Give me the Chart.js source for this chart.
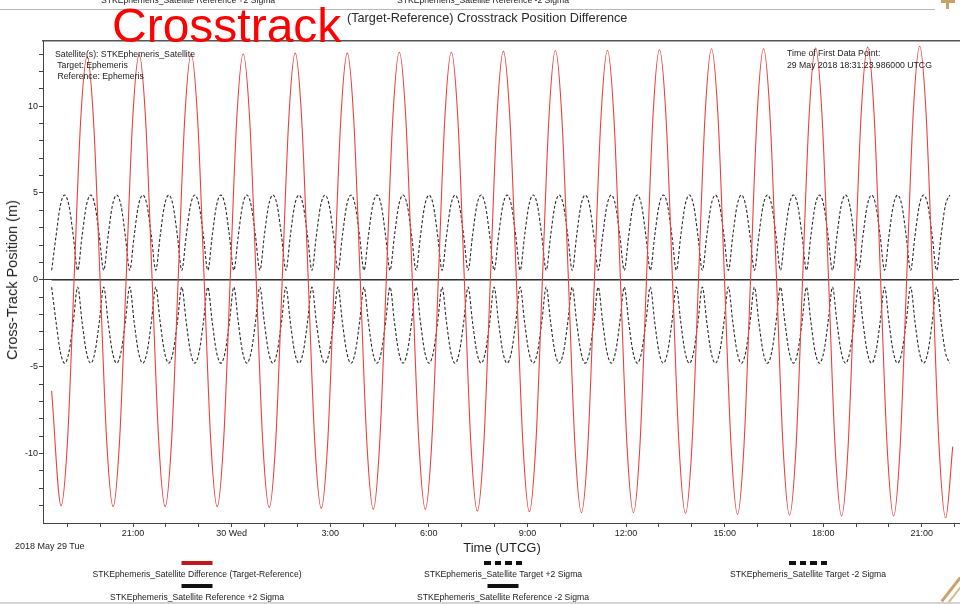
<!DOCTYPE html>
<html>
<head>
<meta charset="utf-8">
<title>Crosstrack Position Difference</title>
<script src="https://cdn.jsdelivr.net/npm/chart.js@4.4.1/dist/chart.umd.min.js"></script>
<style>
  html, body { margin: 0; padding: 0; background: #fff; }
  #page {
    position: relative; width: 960px; height: 604px; overflow: hidden;
    font-family: "Liberation Sans", Arial, sans-serif; color: #1e1e1e;
  }
  #plot { position: absolute; left: 0; top: 0; }
  .t { position: absolute; white-space: pre; }
  .note { font-size: 8.7px; line-height: 11px; color: #1a1a1a; }
  .leg { position: absolute; transform: translateX(-50%); }
  .legText { font-size: 8.6px; line-height: 11px; white-space: pre; color: #1a1a1a; }
</style>
</head>
<body>
<div id="page">
  <canvas id="plot" width="960" height="604"></canvas>

  <!-- strip of the legend belonging to the panel above -->
  <div class="t legText" style="left:101px; top:-5px;">STKEphemeris_Satellite Reference +2 Sigma</div>
  <div class="t legText" style="left:397px; top:-5px;">STKEphemeris_Satellite Reference -2 Sigma</div>
  <div style="position:absolute; left:0; top:9px; width:935px; height:1px; background:#b8b8b8;"></div>
  <div style="position:absolute; left:941px; top:0; width:14px; height:3px; background:#c9a26a;"></div>
  <div style="position:absolute; left:946px; top:0; width:3px; height:9px; background:#c9a26a;"></div>

  <div class="t" style="left:112px; top:2px; font-size:48px; line-height:48px; color:#ff0000;">Crosstrack</div>
  <div class="t" style="left:347px; top:10px; font-size:12.7px; line-height:16px; color:#2a2a2a;">(Target-Reference) Crosstrack Position Difference</div>

  <div class="t note" style="left:55px; top:49px;">Satellite(s): STKEphemeris_Satellite</div>
  <div class="t note" style="left:55px; top:60px;"> Target: Ephemeris</div>
  <div class="t note" style="left:55px; top:71px;"> Reference: Ephemeris</div>
  <div class="t note" style="left:787px; top:48px;">Time of First Data Point:</div>
  <div class="t note" style="left:787px; top:60px;">29 May 2018 18:31:23.986000 UTCG</div>

  <div class="t" style="left:12px; top:280px; font-size:14.5px; line-height:16px; transform:translate(-50%,-50%) rotate(-90deg);">Cross-Track Position (m)</div>
  <div class="t" style="left:502px; top:548px; font-size:13px; line-height:16px; transform:translate(-50%,-50%);">Time (UTCG)</div>
  <div class="t" style="left:15px; top:541px; font-size:9px; line-height:11px;">2018 May 29 Tue</div>

  <div id="legend"></div>

  <div style="position:absolute; left:0; top:602px; width:960px; height:2px; background:#d4d4d4;"></div>
  <div style="position:absolute; left:936px; top:588px; width:30px; height:3px; background:#c9a26a; transform:rotate(-52deg);"></div>
  <div style="position:absolute; left:944px; top:592px; width:24px; height:2px; background:#d8bb8a; transform:rotate(-52deg);"></div>
</div>

<script>
// ---- time axis (hours counted from 2018-05-29 00:00 UTCG) ----
const xTickHours = [19, 20, 21, 22, 23, 24, 25, 26, 27, 28, 29, 30, 31, 32, 33, 34,
                    35, 36, 37, 38, 39, 40, 41, 42, 43, 44, 45, 46];
const xLabelHours = [21, 24, 27, 30, 33, 36, 39, 42, 45];
const xLabelTexts = ['21:00', '30 Wed', '3:00', '6:00', '9:00', '12:00', '15:00', '18:00', '21:00'];

// ---- position axis (m) ----
const yTickValues = [-13, -12, -11, -10, -9, -8, -7, -6, -5, -4, -3, -2, -1, 0,
                     1, 2, 3, 4, 5, 6, 7, 8, 9, 10, 11, 12, 13];
const yLabelValues = [-10, -5, 0, 5, 10];

// ---- Difference (Target-Reference) ----
const diffFirstHour = 18.523, diffFirstValue = -6.4;   // first data point
const diffGridStart = 18.81, diffGridStep = 0.1979;    // samples from the first trough on
const diffLastHour = 45.94, diffLastValue = -9.6;      // last data point
const diffValues = [
  -13.0,  -9.2, 0, 9.1, 12.85, 9.1, 0, -9.2,
  -13.05, -9.2, 0, 9.2, 12.95, 9.2, 0, -9.2,
  -13.05, -9.2, 0, 9.2, 13.0,  9.2, 0, -9.2,
  -13.05, -9.2, 0, 9.2, 13.0,  9.2, 0, -9.3,
  -13.1,  -9.3, 0, 9.2, 13.05, 9.2, 0, -9.3,
  -13.15, -9.3, 0, 9.2, 13.05, 9.2, 0, -9.3,
  -13.2,  -9.3, 0, 9.3, 13.1,  9.3, 0, -9.3,
  -13.2,  -9.3, 0, 9.3, 13.1,  9.3, 0, -9.4,
  -13.3,  -9.4, 0, 9.3, 13.15, 9.3, 0, -9.4,
  -13.35, -9.4, 0, 9.3, 13.2,  9.3, 0, -9.5,
  -13.4,  -9.5, 0, 9.3, 13.2,  9.3, 0, -9.5,
  -13.4,  -9.5, 0, 9.4, 13.25, 9.4, 0, -9.5,
  -13.45, -9.5, 0, 9.4, 13.3,  9.4, 0, -9.5,
  -13.5,  -9.5, 0, 9.4, 13.3,  9.4, 0, -9.6,
  -13.55, -9.6, 0, 9.4, 13.35, 9.4, 0, -9.6,
  -13.6,  -9.6, 0, 9.5, 13.4,  9.5, 0, -9.6,
  -13.6,  -9.6, 0, 9.5, 13.45, 9.5, 0, -9.7,
  -13.7
];

// ---- Target +/-2 sigma (one arch per row) ----
const sigmaStart = 18.523, sigmaStep = 0.13199;
const targetPlus2Sigma = [
  0.55, 2.5, 4.27, 4.88, 4.27, 2.5,
  0.55, 2.5, 4.27, 4.88, 4.27, 2.5,
  0.55, 2.5, 4.27, 4.88, 4.27, 2.5,
  0.55, 2.5, 4.27, 4.88, 4.27, 2.5,
  0.55, 2.5, 4.27, 4.88, 4.27, 2.5,
  0.55, 2.5, 4.27, 4.88, 4.27, 2.5,
  0.55, 2.5, 4.27, 4.88, 4.27, 2.5,
  0.55, 2.5, 4.27, 4.88, 4.27, 2.5,
  0.55, 2.5, 4.27, 4.88, 4.27, 2.5,
  0.55, 2.5, 4.27, 4.88, 4.27, 2.5,
  0.55, 2.5, 4.27, 4.88, 4.27, 2.5,
  0.55, 2.5, 4.27, 4.88, 4.27, 2.5,
  0.55, 2.5, 4.27, 4.88, 4.27, 2.5,
  0.55, 2.5, 4.27, 4.88, 4.27, 2.5,
  0.55, 2.5, 4.27, 4.88, 4.27, 2.5,
  0.55, 2.5, 4.27, 4.88, 4.27, 2.5,
  0.55, 2.5, 4.27, 4.88, 4.27, 2.5,
  0.55, 2.5, 4.27, 4.88, 4.27, 2.5,
  0.55, 2.5, 4.27, 4.88, 4.27, 2.5,
  0.55, 2.5, 4.27, 4.88, 4.27, 2.5,
  0.55, 2.5, 4.27, 4.88, 4.27, 2.5,
  0.55, 2.5, 4.27, 4.88, 4.27, 2.5,
  0.55, 2.5, 4.27, 4.88, 4.27, 2.5,
  0.55, 2.5, 4.27, 4.88, 4.27, 2.5,
  0.55, 2.5, 4.27, 4.88, 4.27, 2.5,
  0.55, 2.5, 4.27, 4.88, 4.27, 2.5,
  0.55, 2.5, 4.27, 4.88, 4.27, 2.5,
  0.55, 2.5, 4.27, 4.88, 4.27, 2.5,
  0.55, 2.5, 4.27, 4.88, 4.27, 2.5,
  0.55, 2.5, 4.27, 4.88, 4.27, 2.5,
  0.55, 2.5, 4.27, 4.88, 4.27, 2.5,
  0.55, 2.5, 4.27, 4.88, 4.27, 2.5,
  0.55, 2.5, 4.27, 4.88, 4.27, 2.5,
  0.55, 2.5, 4.27, 4.88, 4.27, 2.5,
  0.55, 2.5, 4.27, 4.88
];
const targetMinus2Sigma = [
  -0.42, -2.4, -4.15, -4.8, -4.15, -2.4,
  -0.42, -2.4, -4.15, -4.8, -4.15, -2.4,
  -0.42, -2.4, -4.15, -4.8, -4.15, -2.4,
  -0.42, -2.4, -4.15, -4.8, -4.15, -2.4,
  -0.42, -2.4, -4.15, -4.8, -4.15, -2.4,
  -0.42, -2.4, -4.15, -4.8, -4.15, -2.4,
  -0.42, -2.4, -4.15, -4.8, -4.15, -2.4,
  -0.42, -2.4, -4.15, -4.8, -4.15, -2.4,
  -0.42, -2.4, -4.15, -4.8, -4.15, -2.4,
  -0.42, -2.4, -4.15, -4.8, -4.15, -2.4,
  -0.42, -2.4, -4.15, -4.8, -4.15, -2.4,
  -0.42, -2.4, -4.15, -4.8, -4.15, -2.4,
  -0.42, -2.4, -4.15, -4.8, -4.15, -2.4,
  -0.42, -2.4, -4.15, -4.8, -4.15, -2.4,
  -0.42, -2.4, -4.15, -4.8, -4.15, -2.4,
  -0.42, -2.4, -4.15, -4.8, -4.15, -2.4,
  -0.42, -2.4, -4.15, -4.8, -4.15, -2.4,
  -0.42, -2.4, -4.15, -4.8, -4.15, -2.4,
  -0.42, -2.4, -4.15, -4.8, -4.15, -2.4,
  -0.42, -2.4, -4.15, -4.8, -4.15, -2.4,
  -0.42, -2.4, -4.15, -4.8, -4.15, -2.4,
  -0.42, -2.4, -4.15, -4.8, -4.15, -2.4,
  -0.42, -2.4, -4.15, -4.8, -4.15, -2.4,
  -0.42, -2.4, -4.15, -4.8, -4.15, -2.4,
  -0.42, -2.4, -4.15, -4.8, -4.15, -2.4,
  -0.42, -2.4, -4.15, -4.8, -4.15, -2.4,
  -0.42, -2.4, -4.15, -4.8, -4.15, -2.4,
  -0.42, -2.4, -4.15, -4.8, -4.15, -2.4,
  -0.42, -2.4, -4.15, -4.8, -4.15, -2.4,
  -0.42, -2.4, -4.15, -4.8, -4.15, -2.4,
  -0.42, -2.4, -4.15, -4.8, -4.15, -2.4,
  -0.42, -2.4, -4.15, -4.8, -4.15, -2.4,
  -0.42, -2.4, -4.15, -4.8, -4.15, -2.4,
  -0.42, -2.4, -4.15, -4.8, -4.15, -2.4,
  -0.42, -2.4, -4.15, -4.8
];

// ---- Reference +/-2 sigma (ephemeris reference carries no covariance) ----
const referenceHours = [18.523, 45.94];
const referencePlus2Sigma = [0, 0];
const referenceMinus2Sigma = [0, 0];

// ---------------------------------------------------------------
const FONT = '"Liberation Sans", Arial, sans-serif';

const diffPoints = [{ x: diffFirstHour, y: diffFirstValue }]
  .concat(diffValues.map((v, i) => ({ x: diffGridStart + i * diffGridStep, y: v })))
  .concat([{ x: diffLastHour, y: diffLastValue }]);
const sigmaPoints = arr => arr.map((v, i) => ({ x: sigmaStart + i * sigmaStep, y: v }));
const refPoints = arr => arr.map((v, i) => ({ x: referenceHours[i], y: v }));

const curve = { pointRadius: 0, pointHoverRadius: 0, fill: false, cubicInterpolationMode: 'monotone' };

const datasets = [
  Object.assign({ label: 'STKEphemeris_Satellite Difference (Target-Reference)', data: diffPoints,
    borderColor: 'rgb(236,64,64)', borderWidth: 1.1, legendColor: '#c0181c' }, curve),
  Object.assign({ label: 'STKEphemeris_Satellite Target +2 Sigma', data: sigmaPoints(targetPlus2Sigma),
    borderColor: '#2b2b2b', borderWidth: 1.1, borderDash: [3, 2], legendColor: '#111' }, curve),
  Object.assign({ label: 'STKEphemeris_Satellite Target -2 Sigma', data: sigmaPoints(targetMinus2Sigma),
    borderColor: '#2b2b2b', borderWidth: 1.1, borderDash: [3, 2], legendColor: '#111' }, curve),
  Object.assign({ label: 'STKEphemeris_Satellite Reference +2 Sigma', data: refPoints(referencePlus2Sigma),
    borderColor: '#333', borderWidth: 1, legendColor: '#111' }, curve),
  Object.assign({ label: 'STKEphemeris_Satellite Reference -2 Sigma', data: refPoints(referenceMinus2Sigma),
    borderColor: '#333', borderWidth: 1, legendColor: '#111' }, curve)
];

const X_MIN = 18.26, X_MAX = 46.13;

new Chart(document.getElementById('plot'), {
  type: 'line',
  data: { datasets },
  options: {
    responsive: false,
    animation: false,
    devicePixelRatio: 1,
    events: [],
    layout: { padding: { left: 0, top: 41, right: 1, bottom: 61 } },
    plugins: { legend: { display: false }, tooltip: { enabled: false }, title: { display: false } },
    scales: {
      x: {
        type: 'linear', min: X_MIN, max: X_MAX,
        afterFit(s) { s.height = 20; },
        afterBuildTicks(s) { s.ticks = xTickHours.map(v => ({ value: v })); },
        ticks: {
          autoSkip: false, maxRotation: 0, padding: 1, color: '#222',
          font: { family: FONT, size: 9 },
          callback(v) { const i = xLabelHours.indexOf(v); return i < 0 ? '' : xLabelTexts[i]; }
        },
        grid: { drawOnChartArea: false, tickLength: 4, tickColor: '#444', tickWidth: 1 },
        border: { color: '#444', width: 1 }
      },
      xTop: {
        type: 'linear', position: 'top', min: X_MIN, max: X_MAX,
        afterFit(s) { s.height = 0; },
        ticks: { display: false },
        grid: { display: false, drawTicks: false },
        border: { display: true, color: '#555', width: 1.5 }
      },
      y: {
        type: 'linear', min: -14, max: 13.75,
        afterFit(s) { s.width = 43; },
        afterBuildTicks(s) { s.ticks = yTickValues.map(v => ({ value: v })); },
        ticks: {
          autoSkip: false, padding: 1, color: '#222',
          font: { family: FONT, size: 9 },
          callback(v) { return yLabelValues.includes(v) ? String(v) : ''; }
        },
        grid: {
          color: ctx => (ctx.tick && ctx.tick.value === 0) ? '#3a3a3a' : 'rgba(0,0,0,0)',
          lineWidth: 1, tickLength: 4, tickColor: '#444', tickWidth: 1
        },
        border: { color: '#444', width: 1 }
      }
    }
  }
});

// ---- legend below the plot: three columns, swatch above its label ----
const legendCols = [197, 503, 808];
const legendRows = [{ swatch: 563, text: 574 }, { swatch: 586, text: 597 }];
const legendBox = document.getElementById('legend');
datasets.forEach((ds, i) => {
  const col = legendCols[i % 3], row = legendRows[Math.floor(i / 3)];
  const sw = document.createElement('div');
  sw.className = 'leg';
  if (ds.borderDash) {
    sw.style.cssText = `left:${col}px; top:${row.swatch - 2}px; width:38px; height:3.5px;` +
      `background:repeating-linear-gradient(to right, ${ds.legendColor} 0 6.5px, transparent 6.5px 10.5px);`;
  } else {
    const h = i === 0 ? 4 : 3.5;
    sw.style.cssText = `left:${col}px; top:${row.swatch - h / 2}px; width:31px; height:${h}px; background:${ds.legendColor};`;
  }
  sw.style.position = 'absolute';
  legendBox.appendChild(sw);
  const tx = document.createElement('div');
  tx.className = 'leg legText';
  tx.style.left = col + 'px';
  tx.style.top = (row.text - 5.5) + 'px';
  tx.textContent = ds.label;
  legendBox.appendChild(tx);
});
</script>
</body>
</html>
